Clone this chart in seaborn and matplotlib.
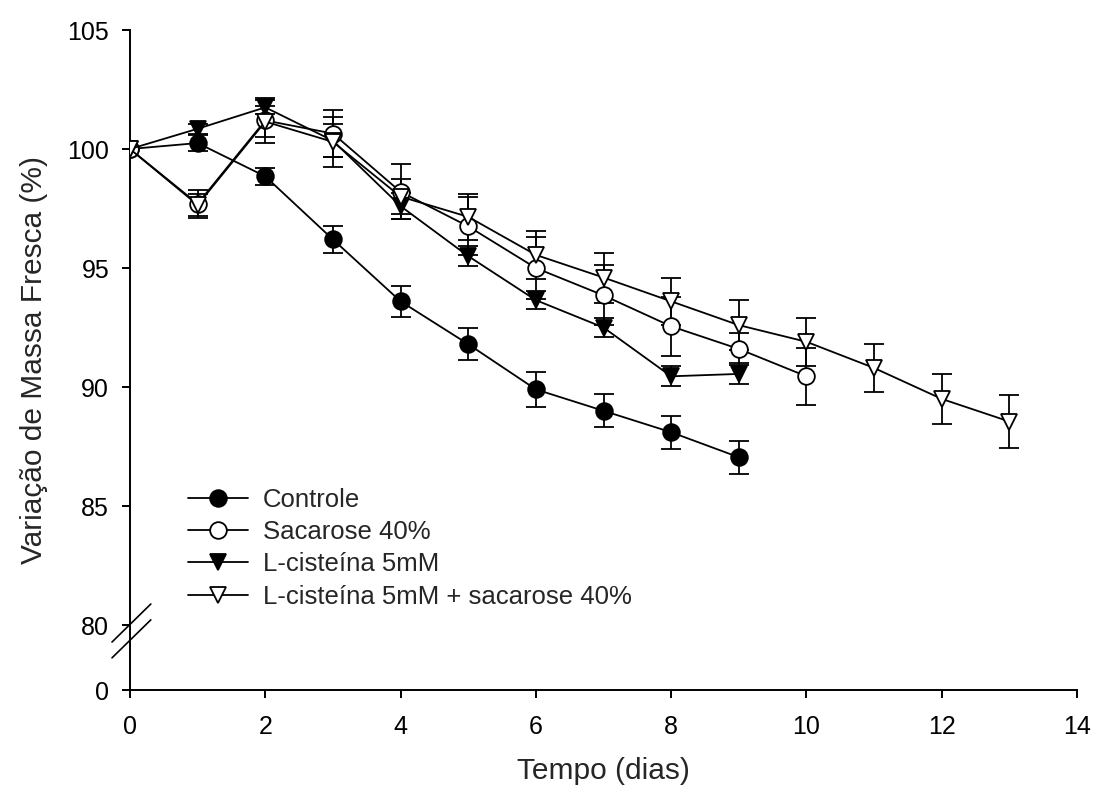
import numpy as np
import pandas as pd
import matplotlib
matplotlib.use("Agg")
import matplotlib.pyplot as plt
import seaborn as sns

# Fresh-mass change (%) per treatment, mean and standard error by day
dias_controle = [0, 1, 2, 3, 4, 5, 6, 7, 8, 9]
controle = [100, 100.25, 98.85, 96.2, 93.6, 91.8, 89.9, 89.0, 88.1, 87.05]
controle_ep = [0, 0.35, 0.37, 0.58, 0.65, 0.68, 0.72, 0.70, 0.69, 0.69]

dias_sacarose = [0, 1, 2, 3, 4, 5, 6, 7, 8, 9, 10]
sacarose = [100, 97.7, 101.2, 100.65, 98.2, 96.75, 95.0, 93.85, 92.55, 91.6, 90.45]
sacarose_ep = [0, 0.58, 0.95, 1.0, 1.15, 1.22, 1.3, 1.26, 1.24, 0.67, 1.2]

dias_lcis = [0, 1, 2, 3, 4, 5, 6, 7, 8, 9]
lcis = [100, 100.85, 101.75, 100.35, 97.6, 95.5, 93.65, 92.5, 90.45, 90.55]
lcis_ep = [0, 0.2, 0.3, 0.7, 0.55, 0.42, 0.38, 0.39, 0.42, 0.44]

dias_lcis_sac = [0, 1, 2, 3, 4, 5, 6, 7, 8, 9, 10, 11, 12, 13]
lcis_sac = [100, 97.65, 101.15, 100.3, 98.0, 97.15, 95.55, 94.6, 93.6, 92.6,
            91.9, 90.8, 89.5, 88.55]
lcis_sac_ep = [0, 0.45, 0.65, 1.05, 0.75, 0.98, 1.0, 1.05, 1.0, 1.05,
               1.0, 1.0, 1.04, 1.1]

rotulos = ["Controle", "Sacarose 40%", "L-cisteína 5mM",
           "L-cisteína 5mM + sacarose 40%"]
x_ticks = [0, 2, 4, 6, 8, 10, 12, 14]
y_ticks = [80, 85, 90, 95, 100, 105]

series = [
    (dias_controle, controle, controle_ep, "o", "black"),
    (dias_sacarose, sacarose, sacarose_ep, "o", "white"),
    (dias_lcis, lcis, lcis_ep, "v", "black"),
    (dias_lcis_sac, lcis_sac, lcis_sac_ep, "v", "white"),
]

sns.set_style("ticks")
plt.rcParams["font.family"] = ["Liberation Sans", "DejaVu Sans"]

fig = plt.figure(figsize=(10.95, 8), dpi=100)
ax = fig.add_axes([130 / 1095, 1 - 690 / 800, 947 / 1095, 660 / 800])

# the y axis is broken: the lowest tick stands for 0, placed a short gap below 80
y_zero = 80 - 2.73

for (dias, vals, ep, mk, face), rot in zip(series, rotulos):
    df = pd.DataFrame({"dia": dias, "massa": vals})
    ax.errorbar(dias, vals, yerr=ep, fmt="none", ecolor="black",
                elinewidth=1.3, capsize=7, capthick=1.3, zorder=2)
    sns.lineplot(data=df, x="dia", y="massa", ax=ax, color="black",
                 linewidth=1.3, marker=mk, markersize=12,
                 markerfacecolor=face, markeredgecolor="black",
                 markeredgewidth=1.3, zorder=3, label=rot)

ax.set_xlim(0, 14)
ax.set_ylim(y_zero, 105)
ax.set_xticks(x_ticks)
ax.set_xticklabels([str(t) for t in x_ticks])
ax.set_yticks([y_zero] + y_ticks)
ax.set_yticklabels(["0"] + [str(t) for t in y_ticks])

for side in ("top", "right"):
    ax.spines[side].set_visible(False)
for side in ("left", "bottom"):
    ax.spines[side].set_linewidth(1.4)
    ax.spines[side].set_color("black")

ax.tick_params(axis="both", direction="out", length=6, width=1.4,
               color="black", labelsize=18, labelcolor="black")
ax.tick_params(axis="x", pad=12)
ax.tick_params(axis="y", pad=9)

ax.set_xlabel("Tempo (dias)", fontsize=21.5, labelpad=13)
ax.set_ylabel("Variação de Massa Fresca (%)", fontsize=21.5, labelpad=14)

# break marks on the y axis
for dy in (0.0, -0.024):
    ax.plot([-0.019, 0.022], [0.0727 + dy, 0.1303 + dy], transform=ax.transAxes,
            color="black", linewidth=1.2, clip_on=False, zorder=5)

h, l = ax.get_legend_handles_labels()
ax.legend(h, l, loc="upper left",
          bbox_to_anchor=(188 / 1095, 1 - 488 / 800),
          bbox_transform=fig.transFigure, frameon=False, fontsize=18.5,
          handlelength=2.35, handletextpad=0.55, labelspacing=0.32,
          borderpad=0, borderaxespad=0)

fig.savefig("out.png", dpi=100)
